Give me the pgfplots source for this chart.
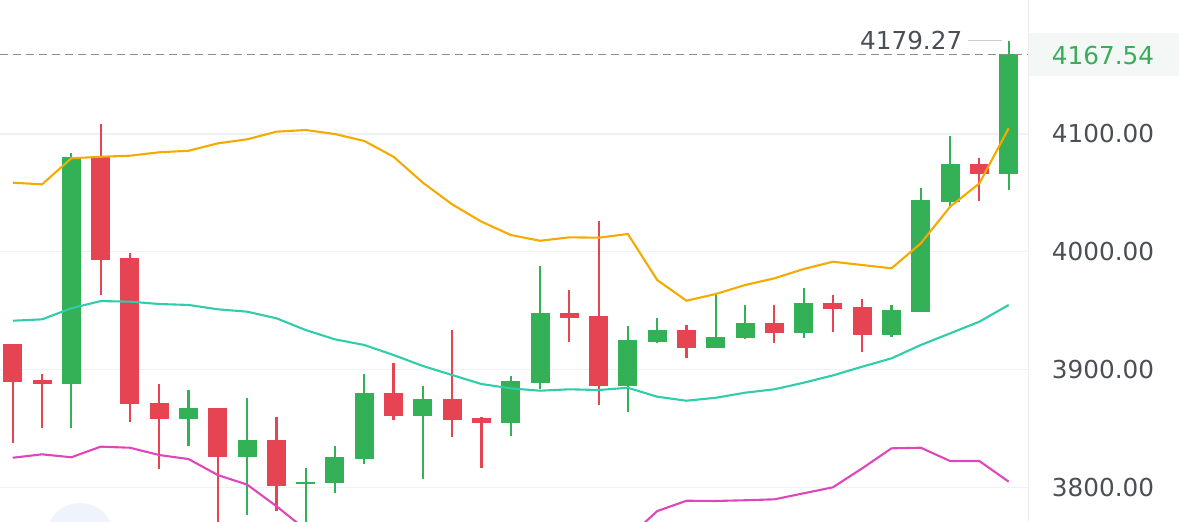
\documentclass[border=0pt]{standalone}
\usepackage{pgfplots}
\pgfplotsset{compat=1.18}
\usepackage{pgfplotstable}
\usepackage{fontspec}
\setmainfont{DejaVu Sans}
\definecolor{upc}{RGB}{52,176,86}
\definecolor{dnc}{RGB}{230,67,83}
\definecolor{ubc}{RGB}{245,170,0}
\definecolor{mbc}{RGB}{47,205,170}
\definecolor{lbc}{RGB}{222,70,185}
\definecolor{gridc}{RGB}{238,241,245}
\definecolor{lblc}{RGB}{75,79,85}
\definecolor{pricec}{RGB}{59,172,90}
\definecolor{pricebg}{RGB}{243,247,245}
\definecolor{dashc}{RGB}{140,140,145}
\definecolor{circc}{RGB}{238,243,252}

\pgfplotstableread{
i o h l c
2 3887.4 4083.5 3850.1 4080.6
6 3857.7 3882.6 3835.3 3867.6
8 3826.0 3875.6 3776.5 3840.2
10 3802.5 3816.1 3765.0 3804.5
11 3803.4 3835.1 3794.9 3825.5
12 3824.3 3895.9 3819.8 3880.3
14 3860.8 3885.7 3806.8 3875.2
17 3854.3 3894.5 3843.8 3890.0
18 3888.5 3987.9 3883.7 3948.2
21 3886.2 3936.9 3864.2 3925.0
22 3923.6 3943.5 3922.2 3933.5
24 3918.5 3963.2 3918.5 3927.8
25 3926.5 3954.8 3925.6 3939.2
27 3930.7 3968.9 3926.5 3956.7
30 3929.3 3954.8 3927.3 3950.5
31 3948.6 4053.8 3948.6 4043.9
32 4041.9 4098.2 4039.0 4074.2
34 4065.7 4179.27 4052.4 4167.54
}\upcandles

\pgfplotstableread{
i o h l c
0 3921.9 3922.0 3837.9 3889.6
1 3891.1 3895.9 3850.1 3887.4
3 4080.6 4108.4 3963.2 3993.0
4 3994.4 3998.6 3855.7 3870.5
5 3871.8 3887.4 3815.3 3857.7
7 3867.6 3867.6 3760.0 3826.0
9 3840.2 3859.4 3780.0 3801.4
13 3880.3 3905.3 3857.1 3860.8
15 3875.2 3933.5 3843.0 3856.9
16 3858.6 3859.4 3816.6 3854.3
19 3948.2 3967.5 3923.6 3944.0
20 3945.7 4026.1 3869.9 3886.2
23 3933.5 3937.8 3910.0 3918.5
26 3939.2 3954.8 3922.8 3930.7
28 3956.7 3963.2 3932.1 3951.1
29 3952.8 3959.6 3914.6 3929.3
33 4074.2 4079.8 4043.3 4065.7
}\dncandles

\pgfplotstableread{
i u m l
0 4058.6 3941.4 3825.1
1 4057.2 3942.6 3828.0
2 4079.3 3952.0 3825.5
3 4080.6 3958.1 3834.5
4 4081.5 3957.6 3833.6
5 4084.4 3955.6 3827.4
6 4085.7 3954.8 3824.0
7 4092.0 3951.1 3810.4
8 4095.4 3949.1 3802.3
9 4101.9 3943.5 3784.0
10 4103.3 3933.5 3764.0
11 4099.9 3925.6 3752.0
12 4094.0 3920.8 3745.0
13 4080.6 3912.3 3740.0
14 4058.6 3903.0 3737.0
15 4040.2 3895.3 3736.0
16 4025.5 3887.7 3737.0
17 4014.2 3884.0 3740.0
18 4009.3 3882.0 3744.0
19 4012.2 3883.2 3748.0
20 4011.9 3882.6 3752.0
21 4015.0 3884.5 3757.0
22 3976.0 3876.9 3779.8
23 3958.4 3873.5 3788.6
24 3964.1 3876.0 3788.4
25 3971.7 3880.3 3789.0
26 3977.4 3883.2 3789.8
27 3985.3 3888.8 3794.9
28 3991.5 3895.0 3800.0
29 3988.7 3902.4 3816.1
30 3985.9 3909.5 3833.1
31 4007.1 3920.8 3833.6
32 4038.2 3930.7 3822.3
33 4058.0 3940.6 3822.3
34 4104.8 3954.8 3804.8
}\bands

\begin{document}
\begin{tikzpicture}
\path[use as bounding box] (0,0) rectangle (589.5pt,260.5pt);
% faint UI circle
\fill[circc] (40pt,-8pt) circle (17pt);
% price label background
\fill[pricebg] (514pt,222.5pt) rectangle (589.5pt,244pt);
\begin{axis}[
  at={(0,0)}, anchor=south west,
  scale only axis,
  width=514pt, height=260.5pt,
  xmin=-0.437, xmax=34.66,
  ymin=3771.4, ymax=4213.67,
  axis line style={draw=none},
  major tick length=0pt,
  xtick=\empty,
  ytick={3800,3900,4000,4100},
  yticklabels={3800.00,3900.00,4000.00,4100.00},
  yticklabel pos=right,
  yticklabel style={anchor=center, xshift=37.5pt, font=\fontsize{12.35}{14}\selectfont, text=lblc},
  ymajorgrids,
  grid style={gridc, line width=0.75pt},
  clip=true,
]
% wicks
\addplot[draw=none, mark=none, forget plot,
  error bars/.cd, y dir=minus, y explicit, error mark=none,
  error bar style={draw=upc, solid, line width=1.1pt}]
  table[x=i, y=h, y error minus expr={\thisrow{h}-\thisrow{l}}] {\upcandles};
\addplot[draw=none, mark=none, forget plot,
  error bars/.cd, y dir=minus, y explicit, error mark=none,
  error bar style={draw=dnc, solid, line width=1.1pt}]
  table[x=i, y=h, y error minus expr={\thisrow{h}-\thisrow{l}}] {\dncandles};
% bodies
\addplot[draw=none, mark=none, forget plot,
  error bars/.cd, y dir=minus, y explicit, error mark=none,
  error bar style={draw=upc, solid, line width=9.5pt}]
  table[x=i, y=c, y error minus expr={\thisrow{c}-\thisrow{o}}] {\upcandles};
\addplot[draw=none, mark=none, forget plot,
  error bars/.cd, y dir=minus, y explicit, error mark=none,
  error bar style={draw=dnc, solid, line width=9.5pt}]
  table[x=i, y=o, y error minus expr={\thisrow{o}-\thisrow{c}}] {\dncandles};
% Bollinger bands
\addplot[ubc, line width=1.05pt, mark=none] table[x=i, y=u] {\bands};
\addplot[mbc, line width=1.05pt, mark=none] table[x=i, y=m] {\bands};
\addplot[lbc, line width=1.05pt, mark=none] table[x=i, y=l] {\bands};
% last price line
\addplot[dashc, line width=0.65pt, dash pattern=on 3.75pt off 2.75pt, mark=none]
  coordinates {(-0.437,4167.54) (34.66,4167.54)};
% max high marker line
\addplot[black!20, line width=0.6pt, mark=none]
  coordinates {(32.61,4179.27) (33.77,4179.27)};
\end{axis}
\draw[black!7, line width=0.5pt] (514pt,0) -- (514pt,260.5pt);
\node[anchor=center, text=lblc, font=\fontsize{12.35}{14}\selectfont, inner sep=0pt] at (455.6pt,240.1pt) {4179.27};
\node[anchor=center, text=pricec, font=\fontsize{12.35}{14}\selectfont, inner sep=0pt] at (551.5pt,232.6pt) {4167.54};
\end{tikzpicture}
\end{document}
